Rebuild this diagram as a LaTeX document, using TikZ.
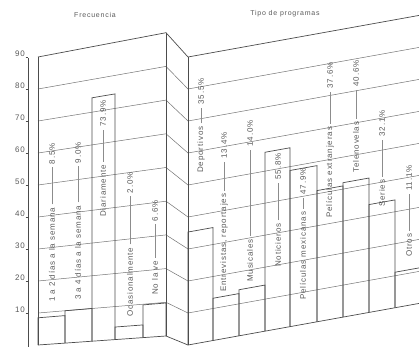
\documentclass[tikz,border=0pt]{standalone}
\usepackage{fontspec}
\setmainfont{Liberation Sans}[LetterSpace=11]

\tikzset{
  declare function={
    yl(\x,\v)=345-3.2*\v-(9+0.17*\v)*(\x-38)/128;
    yr(\x,\v)=345-3.2*\v-0.18*(\x-188);
  },
  frame/.style={draw=black!70, line width=0.7pt},
  grid/.style={draw=black!55, line width=0.5pt},
  bar/.style={draw=black!70, line width=0.7pt},
  lbl/.style={rotate=90, anchor=west, inner sep=0pt, text=black!65,
    font=\fontsize{8}{9}\selectfont},
  pct/.style={lbl, anchor=east},
  leader/.style={draw=black!45, line width=0.4pt, shorten <=3pt, shorten >=3pt},
  axlbl/.style={anchor=east, inner sep=0pt, text=black!65, font=\fontsize{8}{9}\selectfont},
  title/.style={text=black!65, font=\fontsize{7}{8}\selectfont}
}

\begin{document}
\begin{tikzpicture}[x=1pt,y=-1pt]
  \useasboundingbox (0,0) rectangle (419,347);

  % titles
  \node[title] (tfreq) at (95,15) {Frecuencia};
  \node[title] (ttipo) at (285,14) {Tipo de programas};

  % scale
  \draw[frame] (28,58) -- (28,347);
  \foreach \v in {10,20,...,90}{
    \draw[frame] (25.5,{345-3.2*\v}) -- (28,{345-3.2*\v});
    \node[axlbl] (ax\v) at (25,{342-3.2*\v}) {\v};
  }

  % panels: grid lines across both panels and the fold
  \foreach \v in {10,20,...,80}
    \draw[grid] (38,{yl(38,\v)}) -- (166,{yl(166,\v)}) -- (188,{yr(188,\v)}) -- (419,{yr(419,\v)});
  \foreach \v in {0,90}
    \draw[frame] (38,{yl(38,\v)}) -- (166,{yl(166,\v)}) -- (188,{yr(188,\v)}) -- (419,{yr(419,\v)});
  \foreach \x in {38,166}
    \draw[frame] (\x,{yl(\x,0)}) -- (\x,{yl(\x,90)});
  \draw[frame] (188,{yr(188,0)}) -- (188,{yr(188,90)});

  % bars, left panel
  \foreach \a/\b/\v in {38/65/8.5, 65/92/10, 92/115/74.4, 115/143/3.8, 143/166/9.8}
    \draw[bar] (\a,{yl(\a,0)}) -- (\a,{yl(\a,\v)}) -- (\b,{yl(\b,\v)}) -- (\b,{yl(\b,0)});

  % bars, right panel
  \foreach \a/\b/\v in {188/213/35.3, 213/239/13.2, 239/265/14.4, 265/290/55.9,
      290/317/48.8, 317/343/41, 343/369/42, 369/395/33.7, 395/423/11.1}
    \draw[bar] (\a,{yr(\a,0)}) -- (\a,{yr(\a,\v)}) -- (\b,{yr(\b,\v)}) -- (\b,{yr(\b,0)});

  % labels
  \foreach \x/\ys/\name/\yp/\pc [count=\i] in {
      52/302/{1 a 2 días a la semana}/143/8.5\%,
      78/300/{3 a 4 días a la semana}/142/9.0\%,
      103/217/Diariamente/100/73.9\%,
      130/317/Ocasionalmente/172/2.0\%,
      155/295/No la ve/200/6.6\%,
      201/173/Deportivos/78/35.5\%,
      224/292/{Entrevistas, reportajes}/132/13.4\%,
      250/282/Musicales/120/14.0\%,
      278/267/Noticieros/153/55.8\%,
      303/300/Películas mexicanas/168/47.9\%,
      330/218/Películas extranjeras/62/37.6\%,
      356/173/Telenovelas/60/40.6\%,
      382/207/Series/110/32.1\%,
      409/257/Otros/165/11.1\%}{
    \node[lbl] (n\i) at (\x,\ys) {\name};
    \node[pct] (p\i) at (\x,\yp) {\pc};
    \draw[leader] (n\i.east) -- (p\i.west);
  }
\end{tikzpicture}
\end{document}
